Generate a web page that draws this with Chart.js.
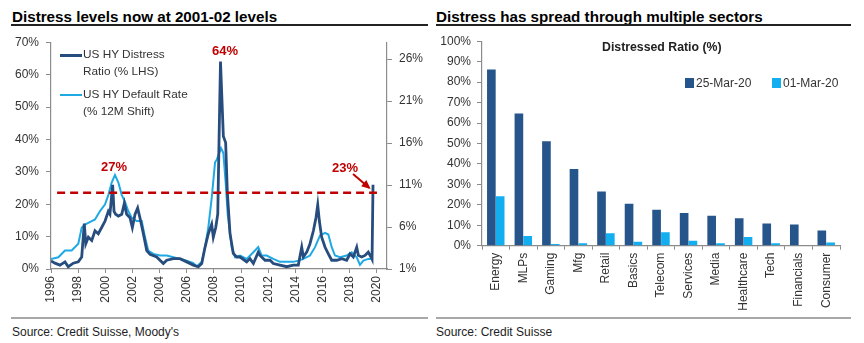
<!DOCTYPE html>
<html>
<head>
<meta charset="utf-8">
<script src="https://cdn.jsdelivr.net/npm/chart.js@4.4.1/dist/chart.umd.min.js"></script>
<style>
  body { margin: 0; width: 864px; height: 343px; background: #fff; position: relative; overflow: hidden;
         font-family: "Liberation Sans", Arial, sans-serif; color: #000; }
  .title { position: absolute; top: 9px; font-weight: bold; font-size: 15.2px; line-height: 15px; white-space: nowrap; }
  .rule { position: absolute; top: 24px; height: 1.5px; background: #222; }
  .sep { position: absolute; top: 317px; height: 2px; background: #a8a8a8; }
  .src { position: absolute; top: 326px; font-size: 12px; line-height: 12px; color: #222; white-space: nowrap; }
  .wrap { position: absolute; top: 28px; height: 290px; }
  .lg { position: absolute; font-size: 11.8px; line-height: 17px; color: #333; white-space: nowrap; }
  .sw { position: absolute; }
</style>
</head>
<body>
<div class="title" style="left:12px">Distress levels now at 2001-02 levels</div>
<div class="rule" style="left:11px;width:417px"></div>
<div class="title" style="left:436px">Distress has spread through multiple sectors</div>
<div class="rule" style="left:436px;width:415px"></div>

<div class="wrap" style="left:0;width:430px"><canvas id="lineChart"></canvas></div>
<div class="wrap" style="left:430px;width:434px"><canvas id="barChart"></canvas></div>

<div class="sw" style="left:60px;top:54px;width:22px;height:3px;background:#274c7e"></div>
<div class="lg" style="left:83px;top:46px">US HY Distress<br>Ratio (% LHS)</div>
<div class="sw" style="left:60px;top:94px;width:22px;height:2px;background:#1fa9e4"></div>
<div class="lg" style="left:83px;top:86px">US HY Default Rate<br>(% 12M Shift)</div>

<div class="lg" style="left:602px;top:39px;font-weight:bold;font-size:12.3px;color:#222">Distressed Ratio (%)</div>
<div class="sw" style="left:685px;top:78px;width:9px;height:10px;background:#25558a"></div>
<div class="lg" style="left:696px;top:75px;font-size:12px">25-Mar-20</div>
<div class="sw" style="left:772px;top:78px;width:9px;height:10px;background:#12aef0"></div>
<div class="lg" style="left:783px;top:75px;font-size:12px">01-Mar-20</div>

<div class="sep" style="left:11px;width:417px"></div>
<div class="sep" style="left:436px;width:415px"></div>
<div class="src" style="left:12px">Source: Credit Suisse, Moody's</div>
<div class="src" style="left:436px">Source: Credit Suisse</div>

<script>
// left panel: distress ratio (LHS) and default rate (RHS), years as decimals
const distressYears = [1996.00, 1996.29, 1996.66, 1997.03, 1997.27, 1997.64, 1998.01, 1998.26, 1998.45, 1998.56,
  1998.75, 1999.00, 1999.24, 1999.48, 1999.73, 1999.98, 2000.22, 2000.34, 2000.54, 2000.64,
  2000.76, 2000.96, 2001.21, 2001.40, 2001.57, 2001.82, 2001.99, 2002.19, 2002.38, 2002.55,
  2002.80, 2003.05, 2003.29, 2003.78, 2004.27, 2004.52, 2005.01, 2005.50, 2005.99, 2006.48,
  2006.85, 2007.10, 2007.34, 2007.58, 2007.83, 2007.95, 2008.13, 2008.28, 2008.37, 2008.48,
  2008.69, 2008.86, 2008.98, 2009.18, 2009.42, 2009.67, 2009.92, 2010.41, 2010.65, 2010.90,
  2011.26, 2011.39, 2011.76, 2012.13, 2012.37, 2012.86, 2013.36, 2013.84, 2014.21, 2014.46,
  2014.58, 2014.83, 2015.07, 2015.32, 2015.51, 2015.64, 2015.76, 2015.93, 2016.18, 2016.42,
  2016.67, 2017.04, 2017.41, 2017.77, 2018.02, 2018.26, 2018.51, 2018.63, 2018.88, 2019.12,
  2019.36, 2019.56, 2019.64, 2019.71];
const distressRatio = [2.5, 1.8, 1.2, 2.2, 0.7, 1.8, 2.2, 3.7, 14, 7.8,
  9.8, 8.8, 11.8, 10.9, 12.8, 14.8, 17.8, 16.9, 26, 17.8,
  16.9, 16.3, 16.9, 20.3, 16.9, 15.8, 12.8, 16.9, 18.8, 15.8,
  10.9, 5.7, 4.5, 3.7, 1.7, 2.7, 3.2, 3.2, 2.2, 1.2,
  0.7, 1.7, 6.7, 10.8, 13.8, 9.8, 12.8, 17, 39, 64,
  41, 39, 24, 11, 4.8, 3.7, 3.7, 2.2, 3.2, 1.7,
  5.2, 4.2, 2.7, 2.7, 1.7, 1.2, 0.7, 1.2, 1.2, 6.7,
  3.7, 5.2, 7.8, 11.8, 15.8, 19.8, 14.8, 9.8, 6.7, 4.7,
  2.7, 2.7, 3.2, 2.7, 4.7, 3.7, 6.7, 4.2, 3.7, 4.2,
  5.2, 3.7, 3.0, 26];

const defaultYears = [1996.00, 1996.54, 1997.03, 1997.52, 1998.01, 1998.26, 1998.50, 1999.00, 1999.24, 1999.61,
  1999.98, 2000.22, 2000.47, 2000.71, 2000.96, 2001.21, 2001.45, 2001.69, 2001.94, 2002.31,
  2002.68, 2002.92, 2003.16, 2003.53, 2004.03, 2004.52, 2005.01, 2005.50, 2005.99, 2006.48,
  2006.73, 2007.10, 2007.34, 2007.58, 2007.83, 2008.08, 2008.20, 2008.52, 2008.69, 2008.86,
  2009.01, 2009.31, 2009.55, 2009.92, 2010.41, 2010.90, 2011.26, 2011.51, 2011.88, 2012.37,
  2012.86, 2013.36, 2013.84, 2014.21, 2014.58, 2015.07, 2015.44, 2015.81, 2016.18, 2016.42,
  2016.67, 2016.91, 2017.28, 2017.77, 2018.14, 2018.51, 2018.75, 2019.00, 2019.36, 2019.54];
const defaultRate = [2.2, 2.4, 3.2, 3.2, 4.0, 5.9, 6.3, 6.7, 6.9, 7.9,
  8.7, 9.8, 11.3, 12.2, 11.3, 9.8, 9.0, 7.9, 7.1, 6.7,
  6.7, 4.8, 3.2, 2.8, 2.6, 2.6, 2.4, 2.2, 2.0, 1.7,
  1.3, 1.85, 3.6, 5.9, 9.4, 13.7, 14.0, 15.4, 14.8, 11.3,
  7.5, 3.6, 2.4, 2.6, 2.2, 3.0, 3.6, 2.6, 2.6, 2.2,
  1.85, 1.85, 1.85, 2.0, 2.2, 2.6, 3.6, 5.0, 5.3, 5.1,
  3.6, 2.6, 2.4, 2.6, 3.0, 2.4, 1.5, 2.0, 2.2, 2.2];

const leftTicks = [0, 10, 20, 30, 40, 50, 60, 70];
const rightTicks = [1, 6, 11, 16, 21, 26];
const yearTicks = [1996, 1998, 2000, 2002, 2004, 2006, 2008, 2010, 2012, 2014, 2016, 2018, 2020];

// annotations: [label, year, %]
const peakLabels = [["27%", 2000.64, 31.4], ["64%", 2008.81, 67.1], ["23%", 2017.65, 31.1]];
const refLevel = 23.5;

// right panel
const sectors = ["Energy", "MLPs", "Gaming", "Mfg", "Retail", "Basics", "Telecom", "Services",
  "Media", "Healthcare", "Tech", "Financials", "Consumer"];
const mar25 = [86.2, 64.6, 51.1, 37.5, 26.5, 20.5, 17.6, 16.0, 14.7, 13.4, 10.8, 10.4, 7.4];
const mar01 = [24.2, 4.7, 0.8, 1.2, 6.1, 1.9, 6.6, 2.4, 1.2, 4.2, 1.2, 0, 1.6];

const dark = "#274c7e", light = "#1fa9e4", red = "#c00000";
const axisCol = "#8c8c8c", tickCol = "#333";
Chart.defaults.font.family = '"Liberation Sans", Arial, sans-serif';
Chart.defaults.font.size = 12;
Chart.defaults.color = tickCol;
Chart.defaults.animation = false;

const annot = {
  id: "annot",
  afterDatasetsDraw(chart) {
    const { ctx, scales: { x, y } } = chart;
    ctx.save();
    // dashed reference line
    const yy = y.getPixelForValue(refLevel);
    ctx.strokeStyle = red;
    ctx.lineWidth = 2.5;
    ctx.setLineDash([8, 5]);
    ctx.beginPath();
    ctx.moveTo(x.getPixelForValue(1996.45), yy);
    ctx.lineTo(x.getPixelForValue(2020.0), yy);
    ctx.stroke();
    ctx.setLineDash([]);
    // arrow to latest reading
    const x1 = x.getPixelForValue(2018.24), y1 = y.getPixelForValue(29.3);
    const x2 = x.getPixelForValue(2019.42), y2 = y.getPixelForValue(25.1);
    ctx.lineWidth = 2;
    ctx.beginPath(); ctx.moveTo(x1, y1); ctx.lineTo(x2, y2); ctx.stroke();
    const a = Math.atan2(y2 - y1, x2 - x1);
    ctx.fillStyle = red;
    ctx.beginPath();
    ctx.moveTo(x2 + 2 * Math.cos(a), y2 + 2 * Math.sin(a));
    ctx.lineTo(x2 - 7 * Math.cos(a) + 4 * Math.sin(a), y2 - 7 * Math.sin(a) - 4 * Math.cos(a));
    ctx.lineTo(x2 - 7 * Math.cos(a) - 4 * Math.sin(a), y2 - 7 * Math.sin(a) + 4 * Math.cos(a));
    ctx.closePath(); ctx.fill();
    // labels
    ctx.font = 'bold 13px "Liberation Sans", Arial, sans-serif';
    ctx.textAlign = "center";
    ctx.textBaseline = "middle";
    peakLabels.forEach(([t, yr, v]) => ctx.fillText(t, x.getPixelForValue(yr), y.getPixelForValue(v)));
    ctx.restore();
  }
};

new Chart(document.getElementById("lineChart"), {
  type: "line",
  data: {
    datasets: [
      { label: "US HY Distress Ratio (% LHS)", data: distressYears.map((v, i) => ({ x: v, y: distressRatio[i] })),
        borderColor: dark, borderWidth: 2.8, pointRadius: 0, tension: 0, yAxisID: "y" },
      { label: "US HY Default Rate (% 12M Shift)", data: defaultYears.map((v, i) => ({ x: v, y: defaultRate[i] })),
        borderColor: light, borderWidth: 2, pointRadius: 0, tension: 0, yAxisID: "y2" }
    ]
  },
  options: {
    responsive: true, maintainAspectRatio: false,
    layout: { padding: { top: 9, left: 0, right: 0, bottom: 0 } },
    plugins: { legend: { display: false }, tooltip: { enabled: false } },
    scales: {
      x: {
        type: "linear", min: 1996, max: 2020.74,
        afterFit: s => { s.height = 49; },
        afterBuildTicks: s => { s.ticks = yearTicks.map(v => ({ value: v })); },
        border: { color: axisCol, width: 1.2 },
        grid: { drawOnChartArea: false, color: axisCol, tickLength: 4 },
        ticks: { minRotation: 90, maxRotation: 90, padding: 3, callback: v => String(v),
                 font: { family: '"Liberation Sans Narrow", "Liberation Sans", Arial', size: 12 } }
      },
      y: {
        position: "left", min: 0, max: 70,
        afterFit: s => { s.width = 51; },
        afterBuildTicks: s => { s.ticks = leftTicks.map(v => ({ value: v })); },
        border: { color: axisCol, width: 1.2 },
        grid: { drawOnChartArea: false, color: axisCol, tickLength: 5 },
        ticks: { padding: 7, callback: v => v + "%" }
      },
      y2: {
        position: "right", min: 1, max: 28,
        afterFit: s => { s.width = 43; },
        afterBuildTicks: s => { s.ticks = rightTicks.map(v => ({ value: v })); },
        border: { color: axisCol, width: 1.2 },
        grid: { drawOnChartArea: false, color: axisCol, tickLength: 5 },
        ticks: { padding: 7, callback: v => v + "%" }
      }
    }
  },
  plugins: [annot]
});

new Chart(document.getElementById("barChart"), {
  type: "bar",
  data: {
    labels: sectors,
    datasets: [
      { label: "25-Mar-20", data: mar25, backgroundColor: "#25558a", categoryPercentage: 0.64, barPercentage: 0.98 },
      { label: "01-Mar-20", data: mar01, backgroundColor: "#12aef0", categoryPercentage: 0.64, barPercentage: 0.98 }
    ]
  },
  options: {
    responsive: true, maintainAspectRatio: false,
    layout: { padding: { top: 11, left: 0, right: 24, bottom: 0 } },
    plugins: { legend: { display: false }, tooltip: { enabled: false } },
    scales: {
      x: {
        afterFit: s => { s.height = 72.3; },
        border: { color: axisCol, width: 1.2 },
        grid: { drawOnChartArea: false, color: axisCol, tickLength: 4 },
        ticks: { minRotation: 90, maxRotation: 90, padding: 3 }
      },
      y: {
        min: 0, max: 100,
        afterFit: s => { s.width = 52; },
        border: { color: axisCol, width: 1.2 },
        grid: { drawOnChartArea: false, color: axisCol, tickLength: 5 },
        ticks: { stepSize: 10, padding: 6, callback: v => v + "%" }
      }
    }
  }
});
</script>
</body>
</html>
